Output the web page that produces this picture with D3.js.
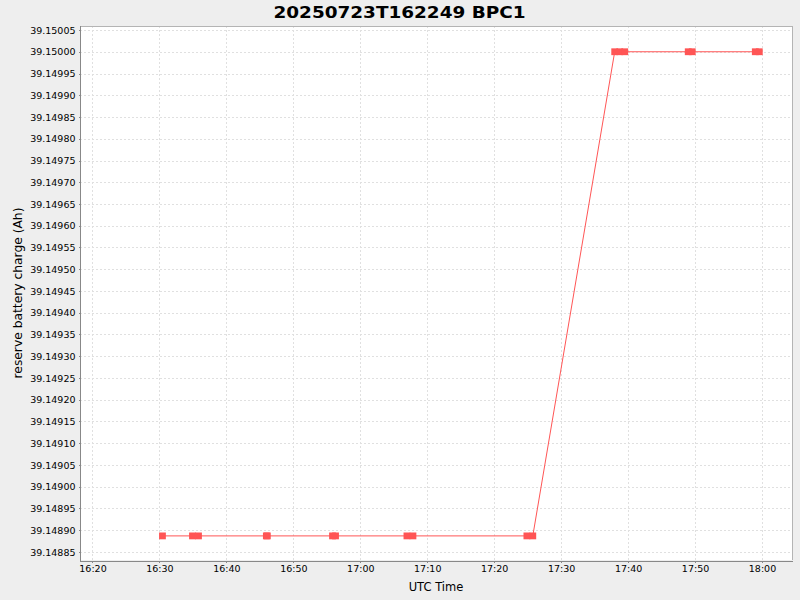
<!DOCTYPE html>
<html>
<head>
<meta charset="utf-8">
<script src="https://cdn.jsdelivr.net/npm/d3@7/dist/d3.min.js"></script>
<style>
  html, body { margin: 0; padding: 0; background: #eeeeee; }
  svg { display: block; }
  text { font-family: "DejaVu Sans", sans-serif; fill: #000; }
</style>
</head>
<body>
<svg id="chart" width="800" height="600"></svg>
<script>
// ---- data ----
const title = "20250723T162249 BPC1";
const xLabel = "UTC Time";
const yLabel = "reserve battery charge (Ah)";
const times = [
  "16:30:27", "16:34:56", "16:35:50", "16:45:58", "16:46:07",
  "16:55:51", "16:56:18", "17:06:58", "17:07:52", "17:24:53",
  "17:25:46", "17:38:00", "17:38:45", "17:39:30", "17:48:59",
  "17:49:35", "17:59:00", "17:59:36"
];
const values = [
  39.148887, 39.148887, 39.148887, 39.148887, 39.148887,
  39.148887, 39.148887, 39.148887, 39.148887, 39.148887,
  39.148887, 39.150000, 39.150000, 39.150000, 39.150000,
  39.150000, 39.150000, 39.150000
];
const xTickLabels = ["16:20","16:30","16:40","16:50","17:00","17:10","17:20","17:30","17:40","17:50","18:00"];
const yTickValues = [39.14885,39.14890,39.14895,39.14900,39.14905,39.14910,39.14915,39.14920,39.14925,39.14930,
  39.14935,39.14940,39.14945,39.14950,39.14955,39.14960,39.14965,39.14970,39.14975,39.14980,
  39.14985,39.14990,39.14995,39.15000,39.15005];
const xDomain = ["16:18:08", "18:04:29"];
const yDomain = [39.1488316, 39.1500592];
const day = "2025-07-23T";

// ---- layout ----
const plot = { left: 80, top: 26, right: 792, bottom: 560 };
const color = "#ff5555";
const parse = s => new Date(day + s + "Z");

const x = d3.scaleUtc().domain(xDomain.map(parse)).range([plot.left, plot.right]);
const y = d3.scaleLinear().domain(yDomain).range([plot.bottom, plot.top]);

const data = times.map((t, i) => ({ t: parse(t), v: values[i] }));

const svg = d3.select("#chart");
svg.append("rect").attr("width", 800).attr("height", 600).attr("fill", "#eeeeee");

// plot background
svg.append("rect")
  .attr("x", plot.left).attr("y", plot.top)
  .attr("width", plot.right - plot.left).attr("height", plot.bottom - plot.top)
  .attr("fill", "#ffffff");

const xTicks = xTickLabels.map(parse);

// grid
const grid = svg.append("g").attr("stroke", "#e0e0e0").attr("stroke-width", 1)
  .attr("stroke-dasharray", "2,2").attr("shape-rendering", "crispEdges");
grid.selectAll("line.v").data(xTicks).join("line").attr("class", "v")
  .attr("x1", d => Math.round(x(d)) + 0.5).attr("x2", d => Math.round(x(d)) + 0.5)
  .attr("y1", plot.top).attr("y2", plot.bottom);
grid.selectAll("line.h").data(yTickValues).join("line").attr("class", "h")
  .attr("y1", d => Math.round(y(d)) + 0.5).attr("y2", d => Math.round(y(d)) + 0.5)
  .attr("x1", plot.left).attr("x2", plot.right);

// plot border (top/right lighter)
svg.append("path")
  .attr("d", `M${plot.left},${plot.top + 0.5}H${plot.right + 0.5}V${plot.bottom}`)
  .attr("fill", "none").attr("stroke", "#b4b4b4").attr("stroke-width", 1)
  .attr("shape-rendering", "crispEdges");

// axes
const xAxis = d3.axisBottom(x).tickValues(xTicks).tickFormat(d3.utcFormat("%H:%M"))
  .tickSizeInner(2).tickSizeOuter(0).tickPadding(3);
const gx = svg.append("g").attr("transform", `translate(0,${plot.bottom + 0.5})`).call(xAxis);
const yAxis = d3.axisLeft(y).tickValues(yTickValues).tickFormat(d3.format(".5f"))
  .tickSizeInner(2).tickSizeOuter(0).tickPadding(3);
const gy = svg.append("g").attr("transform", `translate(${plot.left + 0.5},0)`).call(yAxis);

[gx, gy].forEach(g => {
  g.select(".domain").attr("stroke", "#888888").attr("shape-rendering", "crispEdges");
  g.selectAll(".tick line").attr("stroke", "#888888").attr("shape-rendering", "crispEdges");
  g.selectAll(".tick text").attr("font-family", "DejaVu Sans, sans-serif")
    .attr("font-size", "9.5px").attr("fill", "#000");
});
gx.select(".domain").attr("d", `M${plot.left},0.5H${plot.right + 1}`);
gy.select(".domain").attr("d", `M0,${plot.top}V${plot.bottom + 1}`);

// line
const line = d3.line().x(d => x(d.t)).y(d => y(d.v));
svg.append("path").datum(data)
  .attr("d", line).attr("fill", "none").attr("stroke", color).attr("stroke-width", 1);

// markers
const ms = 6.8;
svg.append("g").selectAll("rect").data(data).join("rect")
  .attr("x", d => x(d.t) - ms / 2).attr("y", d => y(d.v) - ms / 2)
  .attr("width", ms).attr("height", ms).attr("fill", color);

// title
svg.append("text").attr("x", 399.5).attr("y", 18.3).attr("text-anchor", "middle")
  .attr("font-size", "16px").attr("font-weight", "bold")
  .attr("textLength", 252).attr("lengthAdjust", "spacingAndGlyphs")
  .text(title);

// axis labels
svg.append("text").attr("x", (plot.left + plot.right) / 2).attr("y", 590.5)
  .attr("text-anchor", "middle").attr("font-size", "11.5px").text(xLabel);
svg.append("text").attr("transform", `translate(22,${(plot.top + plot.bottom) / 2}) rotate(-90)`)
  .attr("text-anchor", "middle").attr("font-size", "12.3px").text(yLabel);
</script>
</body>
</html>
